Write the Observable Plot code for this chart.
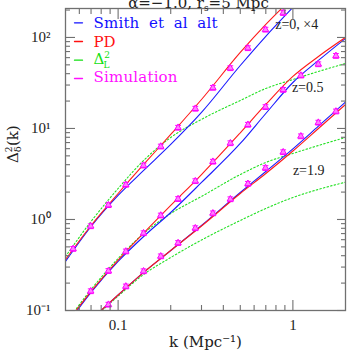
<!DOCTYPE html>
<html><head><meta charset="utf-8">
<script src="https://cdn.jsdelivr.net/npm/d3@7"></script>
<script src="https://cdn.jsdelivr.net/npm/@observablehq/plot@0.6"></script>
<style>body{margin:0;background:#fff;}</style>
</head><body><div id="chart"></div>
<script>
// ---- data ----
const kGrid = [0.05, 0.07, 0.1, 0.14, 0.2, 0.3, 0.5, 0.7, 1.0, 1.4, 2.0];
// z=0 (x4)
const pdZ0     = [0.363, 0.859, 1.93, 4.02, 8.59, 20.8, 68.4, 139, 275, null, null];
const smithZ0  = [0.346, 0.838, 1.84, 3.46, 6.67, 15.0, 49.2, 103, 214, 423, null];
const linZ0    = [0.392, 0.951, 2.19, 4.45, 7.96, 12.6, 20.3, 27.5, 34.5, 42.3, 51.8];
// z=0.5
const pdZ05    = [0.0702, 0.162, 0.358, 0.707, 1.425, 3.12, 8.97, 18.35, 37.3, 61.8, 100];
const smithZ05 = [0.0667, 0.158, 0.346, 0.650, 1.194, 2.55, 6.84, 14.6, 32.0, 55.9, 97.5];
const linZ05   = [0.072, 0.170, 0.373, 0.702, 1.164, 1.79, 3.12, 4.23, 5.31, 6.50, 7.96];
// z=1.9
const pdZ19    = [null, 0.0796, 0.148, 0.262, 0.456, 0.848, 1.93, 3.20, 5.66, 10.0, 18.35];
const smithZ19 = [null, 0.0796, 0.148, 0.262, 0.456, 0.859, 1.98, 3.37, 5.97, 10.6, 19.5];
const linZ19   = [null, 0.0776, 0.144, 0.249, 0.382, 0.595, 0.975, 1.32, 1.745, 2.14, 2.57];

// simulation points
const kSim   = [0.0553, 0.0697, 0.0880, 0.1107, 0.1398, 0.1754, 0.2203, 0.2765, 0.3485, 0.4387, 0.553, 0.697, 0.880, 1.111, 1.398, 1.763];
const simZ0  = [0.476, 0.844, 1.44, 2.41, 3.92, 6.34, 10.2, 16.5, 28.0, 46.0, 76.3, 122, 186, null, null, null];
const simZ05 = [null, 0.163, 0.272, 0.446, 0.707, 1.107, 1.68, 2.64, 4.32, 6.89, 11.0, 17.2, 26.6, 38.2, 50.8, 62.8];
const simZ19 = [null, null, 0.116, 0.184, 0.270, 0.394, 0.552, 0.803, 1.17, 1.67, 2.47, 3.68, 5.49, 8.21, 11.6, 15.4];
const errFrac = 0.06;

// annotations
const annLabels = ["z=0, ×4", "z=0.5", "z=1.9"];
const annK      = [0.792, 0.987, 1.0];
const annV      = [124.6, 25.1, 3.12];

// legend
const legendLabels = ["Smith et al alt", "PD", "Δ2L", "Simulation"];
const legendColors = ["#1010ff", "#ff1010", "#10e010", "#ff10ff"];

// ticks
const xMajor = [0.1, 1];
const xMajorLabels = ["0.1", "1"];
const xMinor = [0.06, 0.07, 0.08, 0.09, 0.2, 0.3, 0.4, 0.5, 0.6, 0.7, 0.8, 0.9];
const yMajor = [0.1, 1, 10, 100];
const yMajorLabels = ["10⁻¹", "10⁰", "10¹", "10²"];
const yMinor = [0.2,0.3,0.4,0.5,0.6,0.7,0.8,0.9, 2,3,4,5,6,7,8,9, 20,30,40,50,60,70,80,90, 200];

const titleText = "α=−1.0, rs=5 Mpc";
const xLabel = "k (Mpc⁻¹)";
const yLabel = "Δ2δ(k)";

// ---- build ----
const BLUE = "#1a1aff", RED = "#ff1a1a", GREEN = "#22e022", MAG = "#ff00ff", AX = "#707070";
const SERIF = "'DejaVu Serif', serif";
const LSERIF = "'Liberation Serif', serif";

function pts(ks, vs) { return vs.map((v, i) => ({k: ks[i], v})).filter(d => d.v != null); }

const curves = [
  {d: linZ0, c: GREEN, dash: "1.5,2.2"}, {d: linZ05, c: GREEN, dash: "1.5,2.2"}, {d: linZ19, c: GREEN, dash: "1.5,2.2"},
  {d: smithZ0, c: BLUE}, {d: smithZ05, c: BLUE}, {d: smithZ19, c: BLUE},
  {d: pdZ0, c: RED}, {d: pdZ05, c: RED}, {d: pdZ19, c: RED}
];
const sim = [...pts(kSim, simZ0), ...pts(kSim, simZ05), ...pts(kSim, simZ19)];

const hline = {draw(ctx, l) { ctx.moveTo(-l / 2, 0); ctx.lineTo(l / 2, 0); }};
const seg = {draw(ctx, l) { ctx.moveTo(0, 0); ctx.lineTo(l, 0); }};

const marks = [];
curves.forEach(c => marks.push(Plot.line(pts(kGrid, c.d), {
  x: "k", y: "v", stroke: c.c, strokeWidth: 1.1, strokeDasharray: c.dash, curve: "monotone-x", clip: true
})));
marks.push(Plot.ruleX(sim, {x: "k", y1: d => d.v * (1 - errFrac), y2: d => d.v * (1 + errFrac), stroke: MAG, strokeWidth: 1}));
marks.push(Plot.vector(sim, {x: "k", y: d => d.v * (1 - errFrac), length: 5, anchor: "start", shape: hline, stroke: MAG, strokeWidth: 1}));
marks.push(Plot.vector(sim, {x: "k", y: d => d.v * (1 + errFrac), length: 5, anchor: "start", shape: hline, stroke: MAG, strokeWidth: 1}));
marks.push(Plot.dot(sim, {x: "k", y: "v", symbol: "triangle", r: 2.4, stroke: MAG, fill: "#ff80ff", strokeWidth: 1}));

// frame and inward ticks
marks.push(Plot.frame({stroke: AX, strokeWidth: 1.3}));
const tk = (fn, data, o) => marks.push(fn(data, {fill: "none", label: null, stroke: AX, strokeWidth: 1.1, ...o}));
tk(Plot.axisX, xMajor, {anchor: "bottom", tickSize: 10, dy: -10});
tk(Plot.axisX, xMinor, {anchor: "bottom", tickSize: 5, dy: -5});
tk(Plot.axisX, xMajor, {anchor: "top", tickSize: 10, dy: 10});
tk(Plot.axisX, xMinor, {anchor: "top", tickSize: 5, dy: 5});
tk(Plot.axisY, yMajor, {anchor: "left", tickSize: 10, dx: 10});
tk(Plot.axisY, yMinor, {anchor: "left", tickSize: 5, dx: 5});
tk(Plot.axisY, yMajor, {anchor: "right", tickSize: 9, dx: -9});
tk(Plot.axisY, yMinor, {anchor: "right", tickSize: 5, dx: -5});

// tick labels
marks.push(Plot.axisX(xMajor, {anchor: "bottom", tickSize: 0, tickPadding: 9, label: null,
  tickFormat: d => xMajorLabels[xMajor.indexOf(d)], fontFamily: LSERIF, fontSize: 15, fill: "#222"}));
marks.push(Plot.axisY(yMajor, {anchor: "left", tickSize: 0, tickPadding: 15, label: null,
  tickFormat: d => yMajorLabels[yMajor.indexOf(d)], fontFamily: LSERIF, fontSize: 15, fill: "#222"}));

// annotations
const ann = annLabels.map((t, i) => ({t, k: annK[i], v: annV[i]}));
marks.push(Plot.text(ann, {x: "k", y: "v", text: "t", textAnchor: "start", lineAnchor: "bottom",
  fontFamily: LSERIF, fontSize: 14, fill: "#222"}));

// legend
const dashDy = [14.3, 33, 51.7, 70];
const textDy = [19.7, 38, 55.3, 73.7];
legendLabels.forEach((lab, i) => {
  marks.push(Plot.vector([0], {frameAnchor: "top-left", dx: 9, dy: dashDy[i], length: 8, anchor: "start",
    shape: seg, stroke: legendColors[i], strokeWidth: 1.3}));
  marks.push(Plot.text([lab], {frameAnchor: "top-left", dx: 28, dy: textDy[i], text: d => d,
    textAnchor: "start", lineAnchor: "bottom", fill: legendColors[i], fontFamily: SERIF, fontSize: 15}));
});

// title and axis labels
marks.push(Plot.text([titleText], {frameAnchor: "top", dx: -7, dy: -1, text: d => d, lineAnchor: "bottom",
  fontFamily: SERIF, fontSize: 15, fill: "#222"}));
marks.push(Plot.text([xLabel], {frameAnchor: "bottom", dy: 36, text: d => d, lineAnchor: "bottom",
  fontFamily: SERIF, fontSize: 15, fill: "#222"}));
marks.push(Plot.text([yLabel], {frameAnchor: "left", dx: -47.5, dy: 3.5, rotate: -90, text: d => d,
  lineAnchor: "bottom", fontFamily: SERIF, fontSize: 15, fill: "#222"}));

const svg = Plot.plot({
  width: 353, height: 353,
  marginLeft: 65, marginRight: 8, marginTop: 8, marginBottom: 43,
  x: {type: "log", domain: [0.05, 2]},
  y: {type: "log", domain: [0.1, 208]},
  style: {fontFamily: SERIF, fontSize: "14px", background: "white", color: "#222"},
  marks
});

const findText = (match) => d3.select(svg).selectAll("text").filter(function () { return this.textContent === match; });
function richify(match, parts) {
  findText(match).each(function () {
    const t = d3.select(this);
    t.text(null);
    parts.forEach(p => {
      const s = t.append("tspan").text(p.t);
      if (p.dx != null) s.attr("dx", p.dx);
      if (p.dy != null) s.attr("dy", p.dy);
      if (p.size != null) s.attr("font-size", p.size);
    });
  });
}
findText("Smith et al alt").style("word-spacing", "4.5px").style("letter-spacing", "0.2px");
findText("Simulation").style("letter-spacing", "0.2px");
richify(titleText, [{t: "α=−1.0, r"}, {t: "s", size: 9, dy: 3}, {t: "=5 Mpc", dy: -3}]);
richify("Δ2L", [{t: "Δ"}, {t: "2", size: 9, dy: -6}, {t: "L", size: 9, dx: -6.5, dy: 10}]);
richify(yLabel, [{t: "Δ"}, {t: "2", size: 9, dy: -6}, {t: "δ", size: 10, dx: -5.7, dy: 9}, {t: "(k)", dy: -3}]);

document.getElementById("chart").appendChild(svg);
</script></body></html>
